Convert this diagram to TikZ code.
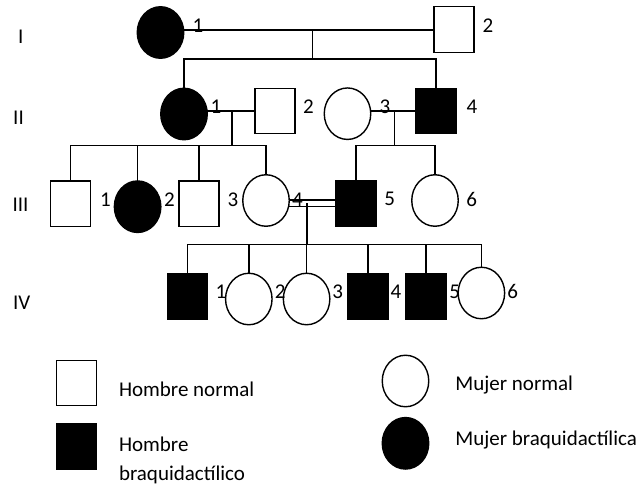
\documentclass[tikz,border=0pt]{standalone}
\usepackage{fontspec}
\setmainfont{Carlito}
\usetikzlibrary{shapes.geometric}
\tikzset{
  every node/.style={inner sep=0pt, outer sep=0pt},
  line/.style={line width=1.4pt},
  male/.style={draw, line width=1.4pt, rectangle, minimum width=40pt, minimum height=45.5pt, fill=white},
  female/.style={draw, line width=1.4pt, ellipse, minimum width=46.5pt, minimum height=51.5pt, fill=white},
  aff/.style={fill=black},
  num/.style={font=\fontsize{21}{25}\selectfont},
  txt/.style={font=\fontsize{21}{28.3}\selectfont},
}
\begin{document}
\begin{tikzpicture}[x=1pt,y=-1pt]
\useasboundingbox (0,0) rectangle (640,493);
% generation labels
\node[num] (gI) at (20.7,36.5) {I};
\node[num] (gII) at (18.5,117.5) {II};
\node[num] (gIII) at (20.5,205) {III};
\node[num] (gIV) at (21.7,302.3) {IV};
% generation I
\node[female,aff] (I1) at (160.5,32.5) {};
\node[male] (I2) at (454,29.5) {};
\coordinate (m1) at (312.6,30);
\coordinate (s1) at (312.6,59);
\draw[line] (I1.east |- m1) -- (I2.west |- m1);
\draw[line] (m1) -- (s1);
% generation II
\node[female,aff] (II1) at (184,114) {};
\node[male] (II2) at (275,111) {};
\node[female] (II3) at (347.5,113.7) {};
\node[male,aff] (II4) at (436,111) {};
\draw[line] (II1.north) |- (s1) -| (II4.north);
\coordinate (m2) at (231.8,111);
\coordinate (s2) at (231.8,145.7);
\draw[line] (II1.east |- m2) -- (II2.west |- m2);
\draw[line] (m2) -- (s2);
\coordinate (m3) at (394.3,111);
\coordinate (s3) at (394.3,145.7);
\draw[line] (II3.east |- m3) -- (II4.west |- m3);
\draw[line] (m3) -- (s3);
% generation III
\node[male] (III1) at (70.5,203.7) {};
\node[female,aff] (III2) at (137.6,206.7) {};
\node[male] (III3) at (199,203.7) {};
\node[female] (III4) at (266,200.5) {};
\node[male,aff] (III5) at (356,203.7) {};
\node[female] (III6) at (435,200.5) {};
\draw[line] (III1.north) |- (s2) -| (III4.north);
\draw[line] (III2.north) -- (III2.north |- s2);
\draw[line] (III3.north) -- (III3.north |- s2);
\draw[line] (III5.north) |- (s3) -| (III6.north);
\coordinate (m4a) at (306.9,200);
\coordinate (m4b) at (306.9,206.7);
\coordinate (m4) at (306.9,203);
\coordinate (s4) at (306.9,244.3);
\draw[line] (III4.east |- m4a) -- (III5.west |- m4a);
\draw[line] (III4.east |- m4b) -- (III5.west |- m4b);
\draw[line] (m4) -- (s4);
% generation IV
\node[male,aff] (IV1) at (187.3,296.3) {};
\node[female] (IV2) at (248.8,299) {};
\node[female] (IV3) at (306.6,299) {};
\node[male,aff] (IV4) at (367.8,296.3) {};
\node[male,aff] (IV5) at (426,296.3) {};
\node[female] (IV6) at (481.4,293) {};
\draw[line] (IV1.north) |- (s4) -| (IV6.north);
\draw[line] (IV2.north) -- (IV2.north |- s4);
\draw[line] (IV3.north) -- (IV3.north |- s4);
\draw[line] (IV4.north) -- (IV4.north |- s4);
\draw[line] (IV5.north) -- (IV5.north |- s4);
% individual numbers
\node[num] (nI1) at (198,25.5) {1};
\node[num] (nI2) at (488,26) {2};
\node[num] (nII1) at (216,107) {1};
\node[num] (nII2) at (308.5,107) {2};
\node[num] (nII3) at (385,107) {3};
\node[num] (nII4) at (472,107) {4};
\node[num] (nIII1) at (105.4,199.3) {1};
\node[num] (nIII2) at (169.4,199.3) {2};
\node[num] (nIII3) at (233,199.3) {3};
\node[num] (nIII4) at (297.4,199.3) {4};
\node[num] (nIII5) at (389.7,199.3) {5};
\node[num] (nIII6) at (471.8,199.3) {6};
\node[num] (nIV1) at (221,291.5) {1};
\node[num] (nIV2) at (280.2,291.5) {2};
\node[num] (nIV3) at (337.6,291.5) {3};
\node[num] (nIV4) at (395.9,291.5) {4};
\node[num] (nIV5) at (454.6,291.5) {5};
\node[num] (nIV6) at (512.8,291.5) {6};
% legend
\node[male] (LM) at (76.3,383) {};
\node[male,aff] (LMA) at (76.3,446.7) {};
\node[female] (LF) at (405.5,381) {};
\node[female,aff] (LFA) at (405.5,443.3) {};
\node[txt,anchor=base west] (tLM) at (119,396.7) {Hombre normal};
\node[txt,anchor=base west,align=left] (tLMA) at (119,480) {Hombre\\braquidactílico};
\node[txt,anchor=base west] (tLF) at (455.4,390) {Mujer normal};
\node[txt,anchor=base west] (tLFA) at (455.4,445) {Mujer braquidactílica};
\end{tikzpicture}
\end{document}
